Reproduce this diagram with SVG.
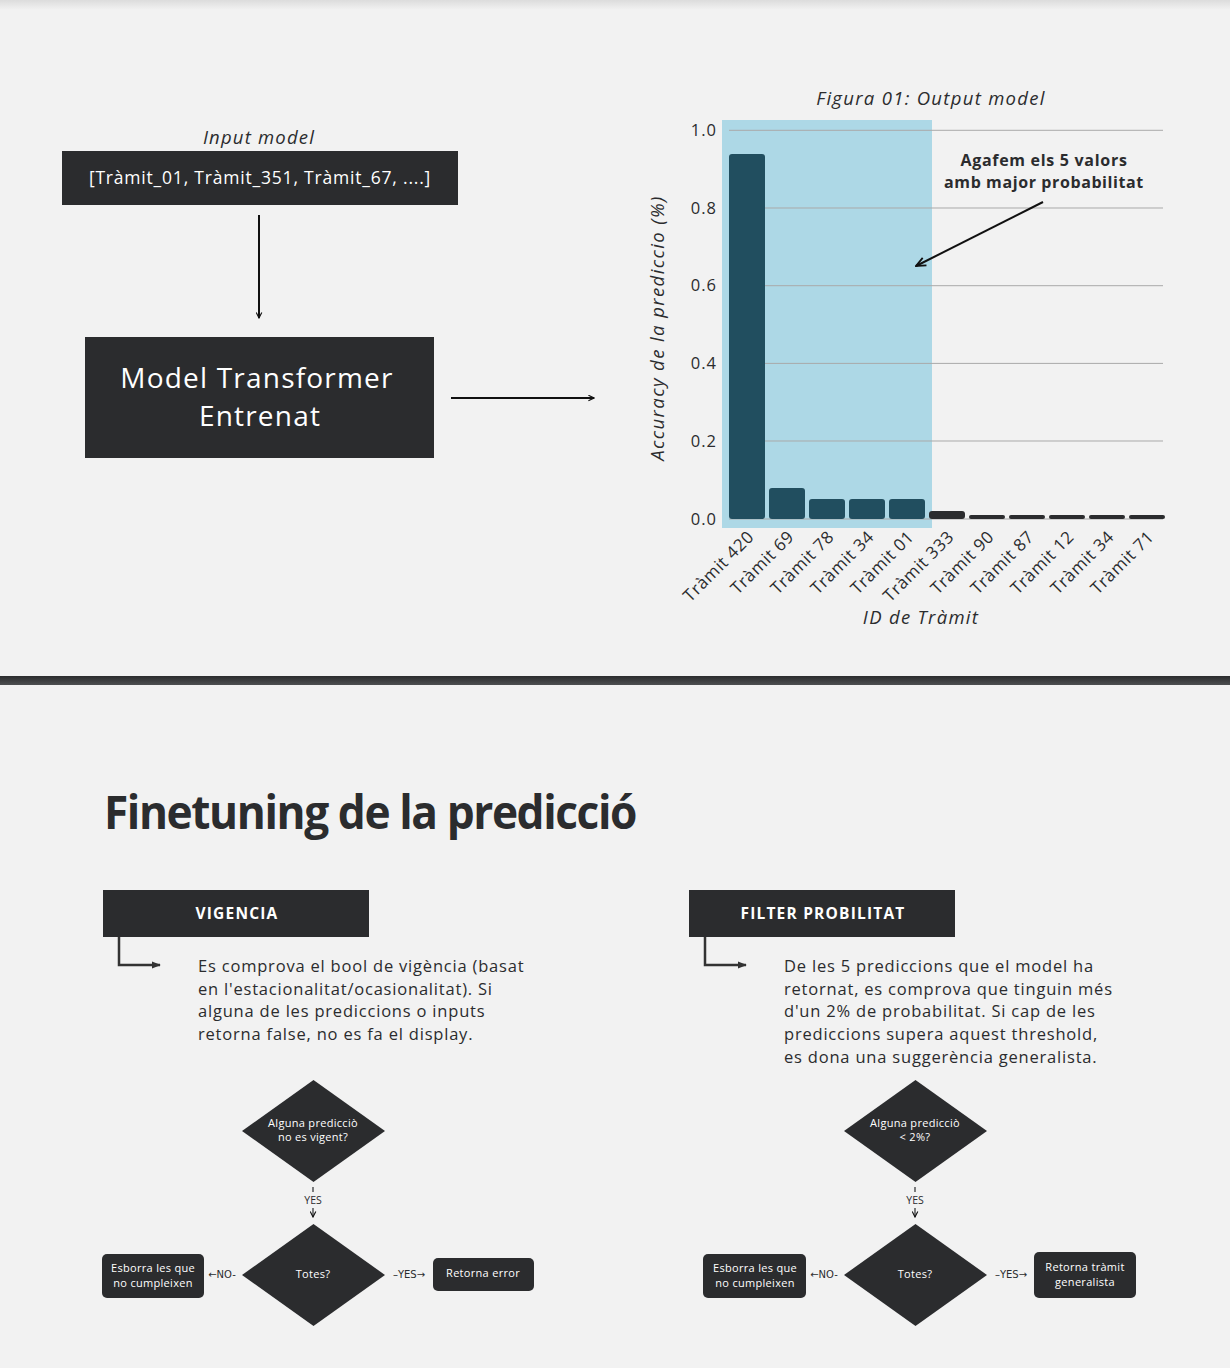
<svg xmlns="http://www.w3.org/2000/svg" width="1230" height="1368" viewBox="0 0 1230 1368">
<style>
.t{font-family:"Open Sans","Liberation Sans",sans-serif;fill:#2b2c2e}
.w{font-family:"Open Sans","Liberation Sans",sans-serif;fill:#ffffff}
.it{font-style:italic}
.dark{fill:#2b2c2e}
.grid{stroke:#a9a9a9;stroke-width:1}
.conn{stroke:#111;stroke-width:2;fill:none}
.conn2{stroke:#333;stroke-width:2.5;fill:none}
.tick{font-size:16.5px;letter-spacing:1px}
.xl{font-size:17px;letter-spacing:0.6px}
.para{font-size:16.5px;letter-spacing:0.8px}
.fc{font-size:11px;letter-spacing:0.3px}
</style>
<defs>
<marker id="ah" viewBox="0 0 10 10" refX="9" refY="5" markerWidth="7" markerHeight="7" markerUnits="userSpaceOnUse" orient="auto"><path d="M1,1 L9,5 L1,9" fill="none" stroke="#111" stroke-width="1.6"/></marker>
<marker id="ah2" viewBox="0 0 10 10" refX="9" refY="5" markerWidth="9" markerHeight="9" markerUnits="userSpaceOnUse" orient="auto"><path d="M0,1 L10,5 L0,9 z" fill="#333"/></marker>
<marker id="ah3" viewBox="0 0 10 10" refX="9" refY="5" markerWidth="12" markerHeight="12" markerUnits="userSpaceOnUse" orient="auto"><path d="M1,1.5 L9,5 L1,8.5" fill="none" stroke="#111" stroke-width="1.5"/></marker>
<linearGradient id="sep" x1="0" y1="0" x2="0" y2="1"><stop offset="0" stop-color="#2b2c2e"/><stop offset="1" stop-color="#4d4f51"/></linearGradient>
<linearGradient id="shadow" x1="0" y1="0" x2="0" y2="1"><stop offset="0" stop-color="#dcdcdc"/><stop offset="1" stop-color="#f2f2f2"/></linearGradient>
</defs>
<rect width="1230" height="1368" fill="#f2f2f2"/>
<rect width="1230" height="10" fill="url(#shadow)"/>
<rect x="0" y="676" width="1230" height="9" fill="url(#sep)"/>

<!-- top left -->
<g id="input-model">
<text class="t it" x="259" y="144" font-size="18.5" letter-spacing="1.2" text-anchor="middle">Input model</text>
<rect class="dark" x="62" y="151" width="396" height="54"/>
<text class="w" x="260" y="184" font-size="17.5" letter-spacing="0.8" text-anchor="middle">[Tràmit_01, Tràmit_351, Tràmit_67, ....]</text>
</g>
<g id="model-transformer">
<rect class="dark" x="85" y="337" width="349" height="121"/>
<text class="w" x="257" y="388" font-size="28" text-anchor="middle" letter-spacing="1.2">Model Transformer</text>
<text class="w" x="260" y="426" font-size="28" text-anchor="middle" letter-spacing="1.2">Entrenat</text>
</g>

<!-- chart -->
<g id="chart">
<text class="t it" x="931" y="105" font-size="18.5" letter-spacing="1.3" text-anchor="middle">Figura 01: Output model</text>
<rect x="722" y="120" width="210" height="408" fill="#add8e6"/>
<g class="grid">
<line x1="729" y1="130.3" x2="1163" y2="130.3"/>
<line x1="729" y1="208" x2="1163" y2="208"/>
<line x1="729" y1="285.7" x2="1163" y2="285.7"/>
<line x1="729" y1="363.4" x2="1163" y2="363.4"/>
<line x1="729" y1="441" x2="1163" y2="441"/>
<line x1="729" y1="519" x2="1163" y2="519"/>
</g>
<g class="t tick" text-anchor="end">
<text x="717" y="136">1.0</text>
<text x="717" y="214">0.8</text>
<text x="717" y="291">0.6</text>
<text x="717" y="369">0.4</text>
<text x="717" y="447">0.2</text>
<text x="717" y="525">0.0</text>
</g>
<g fill="#214e5f">
<rect x="729" y="154" width="36" height="365" rx="3"/>
<rect x="769" y="488" width="36" height="31" rx="3"/>
<rect x="809" y="499" width="36" height="20" rx="3"/>
<rect x="849" y="499" width="36" height="20" rx="3"/>
<rect x="889" y="499" width="36" height="20" rx="3"/>
</g>
<g fill="#2b2c2e">
<rect x="929" y="511" width="36" height="8" rx="3"/>
<rect x="969" y="515" width="36" height="4" rx="2"/>
<rect x="1009" y="515" width="36" height="4" rx="2"/>
<rect x="1049" y="515" width="36" height="4" rx="2"/>
<rect x="1089" y="515" width="36" height="4" rx="2"/>
<rect x="1129" y="515" width="36" height="4" rx="2"/>
</g>
<g class="t xl" text-anchor="end">
<text transform="translate(755,538) rotate(-45)">Tràmit 420</text>
<text transform="translate(795,538) rotate(-45)">Tràmit 69</text>
<text transform="translate(835,538) rotate(-45)">Tràmit 78</text>
<text transform="translate(875,538) rotate(-45)">Tràmit 34</text>
<text transform="translate(915,538) rotate(-45)">Tràmit 01</text>
<text transform="translate(955,538) rotate(-45)">Tràmit 333</text>
<text transform="translate(995,538) rotate(-45)">Tràmit 90</text>
<text transform="translate(1035,538) rotate(-45)">Tràmit 87</text>
<text transform="translate(1075,538) rotate(-45)">Tràmit 12</text>
<text transform="translate(1115,538) rotate(-45)">Tràmit 34</text>
<text transform="translate(1155,538) rotate(-45)">Tràmit 71</text>
</g>
<text class="t it" x="921" y="624" font-size="18.5" letter-spacing="1.3" text-anchor="middle">ID de Tràmit</text>
<text class="t it" transform="translate(664,328) rotate(-90)" font-size="18.5" letter-spacing="1.4" text-anchor="middle">Accuracy de la prediccio (%)</text>
<text class="t" x="1044" y="166" font-size="16" font-weight="bold" letter-spacing="0.7" text-anchor="middle">Agafem els 5 valors</text>
<text class="t" x="1044" y="188" font-size="16" font-weight="bold" letter-spacing="0.6" text-anchor="middle">amb major probabilitat</text>
</g>

<!-- finetuning -->
<text class="t" x="104" y="829" font-size="47" font-weight="bold" letter-spacing="-1.5" textLength="532" lengthAdjust="spacingAndGlyphs">Finetuning de la predicció</text>

<g id="vigencia">
<rect class="dark" x="103" y="890" width="266" height="47"/>
<text class="w" x="237" y="919" font-size="15.5" font-weight="bold" letter-spacing="1.2" text-anchor="middle">VIGENCIA</text>
</g>
<g id="vigencia-text" class="t para">
<text x="198" y="972">Es comprova el bool de vigència (basat</text>
<text x="198" y="995">en l'estacionalitat/ocasionalitat). Si</text>
<text x="198" y="1017">alguna de les prediccions o inputs</text>
<text x="198" y="1040">retorna false, no es fa el display.</text>
</g>
<g id="filter">
<rect class="dark" x="689" y="890" width="266" height="47"/>
<text class="w" x="823" y="919" font-size="15.5" font-weight="bold" letter-spacing="1.2" text-anchor="middle">FILTER PROBILITAT</text>
</g>
<g id="filter-text" class="t para">
<text x="784" y="972">De les 5 prediccions que el model ha</text>
<text x="784" y="995">retornat, es comprova que tinguin més</text>
<text x="784" y="1017">d'un 2% de probabilitat. Si cap de les</text>
<text x="784" y="1040">prediccions supera aquest threshold,</text>
<text x="784" y="1063">es dona una suggerència generalista.</text>
</g>

<!-- left flowchart -->
<g id="v-d1">
<polygon class="dark" points="313.5,1080 385,1131 313.5,1182 242,1131"/>
<text class="w fc" x="313" y="1127" text-anchor="middle">Alguna predicciò</text>
<text class="w fc" x="313" y="1141" text-anchor="middle">no es vigent?</text>
</g>
<g id="v-d2">
<polygon class="dark" points="313.5,1224 385,1275 313.5,1326 242,1275"/>
<text class="w fc" x="313" y="1278" text-anchor="middle">Totes?</text>
</g>
<g id="v-b1">
<rect class="dark" x="102" y="1254" width="102" height="44" rx="5"/>
<text class="w fc" x="153" y="1272" text-anchor="middle">Esborra les que</text>
<text class="w fc" x="153" y="1287" text-anchor="middle">no cumpleixen</text>
</g>
<g id="v-b2">
<rect class="dark" x="433" y="1258" width="101" height="33" rx="5"/>
<text class="w fc" x="483" y="1277" text-anchor="middle">Retorna error</text>
</g>

<!-- right flowchart -->
<g id="f-d1">
<polygon class="dark" points="915.5,1080 987,1131 915.5,1182 844,1131"/>
<text class="w fc" x="915" y="1127" text-anchor="middle">Alguna predicciò</text>
<text class="w fc" x="915" y="1141" text-anchor="middle">&lt; 2%?</text>
</g>
<g id="f-d2">
<polygon class="dark" points="915.5,1224 987,1275 915.5,1326 844,1275"/>
<text class="w fc" x="915" y="1278" text-anchor="middle">Totes?</text>
</g>
<g id="f-b1">
<rect class="dark" x="703" y="1254" width="103" height="44" rx="5"/>
<text class="w fc" x="755" y="1272" text-anchor="middle">Esborra les que</text>
<text class="w fc" x="755" y="1287" text-anchor="middle">no cumpleixen</text>
</g>
<g id="f-b2">
<rect class="dark" x="1034" y="1252" width="102" height="46" rx="5"/>
<text class="w fc" x="1085" y="1271" text-anchor="middle">Retorna tràmit</text>
<text class="w fc" x="1085" y="1286" text-anchor="middle">generalista</text>
</g>

<!-- connectors -->
<g id="connectors">
<line class="conn" x1="259" y1="215" x2="259" y2="318" marker-end="url(#ah)"/>
<line class="conn" x1="451" y1="398" x2="594" y2="398" marker-end="url(#ah)"/>
<line class="conn" x1="1043" y1="202" x2="916" y2="266" marker-end="url(#ah3)"/>
<polyline class="conn2" points="119,937 119,965 160,965" marker-end="url(#ah2)"/>
<polyline class="conn2" points="705,937 705,965 746,965" marker-end="url(#ah2)"/>

<g class="t" font-size="10.5" text-anchor="middle">
<line x1="313" y1="1187" x2="313" y2="1192" stroke="#2b2c2e" stroke-width="1.2"/>
<text x="313" y="1204">YES</text>
<line x1="313" y1="1208" x2="313" y2="1217" stroke="#2b2c2e" stroke-width="1.2" marker-end="url(#ah)"/>
<text x="222" y="1278" font-family="DejaVu Sans" font-size="10">←NO-</text>
<text x="409" y="1278" font-family="DejaVu Sans" font-size="10">–YES→</text>

<line x1="915" y1="1187" x2="915" y2="1192" stroke="#2b2c2e" stroke-width="1.2"/>
<text x="915" y="1204">YES</text>
<line x1="915" y1="1208" x2="915" y2="1217" stroke="#2b2c2e" stroke-width="1.2" marker-end="url(#ah)"/>
<text x="824" y="1278" font-family="DejaVu Sans" font-size="10">←NO-</text>
<text x="1011" y="1278" font-family="DejaVu Sans" font-size="10">–YES→</text>
</g>
</g>
</svg>
